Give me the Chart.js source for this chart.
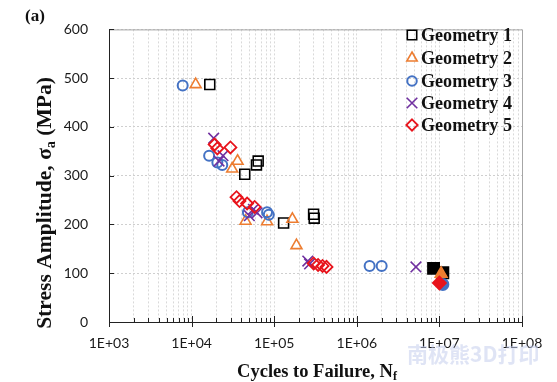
<!DOCTYPE html>
<html><head><meta charset="utf-8">
<script src="https://cdn.jsdelivr.net/npm/chart.js@4"></script>
<style>html,body{margin:0;padding:0;background:#fff;overflow:hidden}#wrap{width:557px;height:382px;position:relative}</style>
</head><body><div id="wrap"><canvas id="c" width="557" height="382"></canvas></div>
<script>
// ---- data (cycles to failure, stress amplitude MPa) ----
const seriesNames = ['Geometry 1','Geometry 2','Geometry 3','Geometry 4','Geometry 5'];
const g1Cycles = [16600, 44000, 61000, 64000, 130000, 300000, 305000];
const g1Stress = [487, 303, 322, 330, 203, 221, 213];
const g1RunoutCycles = [8.5e6, 1.1e7];
const g1RunoutStress = [110, 101];
const g2Cycles = [11200, 31000, 36000, 45000, 82000, 166000, 186000];
const g2Stress = [487, 314, 330, 207, 206, 211, 157];
const g2RunoutCycles = [1.05e7];
const g2RunoutStress = [99];
const g3Cycles = [7800, 16300, 20500, 23500, 48000, 82000, 86000, 1.43e6, 2.0e6];
const g3Stress = [485, 341, 327, 322, 225, 225, 220, 115, 115];
const g3RunoutCycles = [1.1e7];
const g3RunoutStress = [77];
const g4Cycles = [18500, 24000, 21500, 50000, 56000, 62000, 255000, 268000, 5.2e6];
const g4Stress = [377, 341, 330, 218, 231, 224, 125, 119, 113];
const g5Cycles = [19000, 20500, 29500, 35000, 38000, 47000, 58000, 300000, 340000, 385000, 430000];
const g5Stress = [364, 356, 358, 256, 248, 243, 236, 120, 117, 115, 113];
const g5RunoutCycles = [1.0e7];
const g5RunoutStress = [80];
const yTickValues = [0, 100, 200, 300, 400, 500, 600];
const xMajorTicks = [1e3, 1e4, 1e5, 1e6, 1e7, 1e8];
const xTickLabels = ['1E+03','1E+04','1E+05','1E+06','1E+07','1E+08'];

// ---- styles ----
const colors = ['#000000', '#ED7D31', '#4472C4', '#7030A0', '#E8141C'];
const styles = ['rect', 'triangle', 'circle', 'crossRot', 'rectRot'];
const radii = [7, 6.3, 5, 7.5, 6];
const widths = [1.6, 1.6, 2, 1.6, 1.8];

const xMinorTicks = [];
for (let i = 0; i < xMajorTicks.length - 1; i++) for (let m = 2; m <= 9; m++) xMinorTicks.push(m * xMajorTicks[i]);
const xAllTicks = xMajorTicks.concat(xMinorTicks).sort((a, b) => a - b);

function pts(xs, ys) { return xs.map((x, i) => ({x: x, y: ys[i]})); }
const openSets = [[g1Cycles, g1Stress], [g2Cycles, g2Stress], [g3Cycles, g3Stress], [g4Cycles, g4Stress], [g5Cycles, g5Stress]];
const runSets = [[g1RunoutCycles, g1RunoutStress], [g2RunoutCycles, g2RunoutStress], [g3RunoutCycles, g3RunoutStress], null, [g5RunoutCycles, g5RunoutStress]];

const datasets = [];
openSets.forEach((s, i) => {
  datasets.push({label: seriesNames[i], data: pts(s[0], s[1]), pointStyle: styles[i], pointRadius: radii[i],
    borderColor: colors[i], backgroundColor: 'rgba(0,0,0,0)', pointBorderWidth: widths[i], order: 20 - 2 * i});
  if (runSets[i]) datasets.push({label: seriesNames[i] + ' run-out', data: pts(runSets[i][0], runSets[i][1]), pointStyle: styles[i], pointRadius: i === 0 ? 8 : radii[i] + 0.5,
    borderColor: colors[i], backgroundColor: colors[i], pointBorderWidth: widths[i], order: 19 - 2 * i});
});

function drawMarker(ctx, style, x, y, r, color, lw) {
  ctx.save(); ctx.strokeStyle = color; ctx.lineWidth = lw; ctx.beginPath();
  if (style === 'rect') { const s = r * Math.SQRT1_2; ctx.rect(x - s, y - s, 2 * s, 2 * s); }
  else if (style === 'triangle') { let a = 0; ctx.moveTo(x + Math.sin(a) * r, y - Math.cos(a) * r); a += 2 * Math.PI / 3; ctx.lineTo(x + Math.sin(a) * r, y - Math.cos(a) * r); a += 2 * Math.PI / 3; ctx.lineTo(x + Math.sin(a) * r, y - Math.cos(a) * r); ctx.closePath(); }
  else if (style === 'circle') { ctx.arc(x, y, r, 0, Math.PI * 2); }
  else if (style === 'crossRot') { const s = r * Math.SQRT1_2; ctx.moveTo(x - s, y - s); ctx.lineTo(x + s, y + s); ctx.moveTo(x - s, y + s); ctx.lineTo(x + s, y - s); }
  else if (style === 'rectRot') { ctx.moveTo(x, y - r); ctx.lineTo(x + r, y); ctx.lineTo(x, y + r); ctx.lineTo(x - r, y); ctx.closePath(); }
  ctx.stroke(); ctx.restore();
}

const serif = '"Liberation Serif", "Times New Roman", serif';
function fitSize(ctx, parts, target) {
  let w = 0; parts.forEach(p => { ctx.font = 'bold ' + (100 * p[1]) + 'px ' + serif; w += ctx.measureText(p[0]).width; });
  return 100 * target / w;
}
function drawRich(ctx, parts, x, y, size, align) {
  let w = 0; parts.forEach(p => { ctx.font = 'bold ' + (size * p[1]) + 'px ' + serif; w += ctx.measureText(p[0]).width; });
  let cx = align === 'center' ? x - w / 2 : x;
  ctx.textAlign = 'left'; ctx.textBaseline = 'alphabetic';
  parts.forEach(p => { ctx.font = 'bold ' + (size * p[1]) + 'px ' + serif; ctx.fillText(p[0], cx, y + size * (p[2] || 0)); cx += ctx.measureText(p[0]).width; });
}

const decor = {
  id: 'decor',
  beforeDatasetsDraw(chart) {
    const ctx = chart.ctx, a = chart.chartArea, xs = chart.scales.x, ys = chart.scales.y;
    ctx.save();
    ctx.strokeStyle = '#a6a6a6'; ctx.lineWidth = 1;
    ctx.beginPath(); ctx.moveTo(a.left, a.top + 0.5); ctx.lineTo(a.right + 0.5, a.top + 0.5); ctx.lineTo(a.right + 0.5, a.bottom); ctx.stroke();
    ctx.strokeStyle = '#222'; ctx.lineWidth = 1;
    ctx.beginPath(); ctx.moveTo(a.left + 0.5, a.top); ctx.lineTo(a.left + 0.5, a.bottom + 0.5); ctx.lineTo(a.right + 0.5, a.bottom + 0.5); ctx.stroke();
    ctx.beginPath();
    xMajorTicks.forEach(v => { const px = Math.round(xs.getPixelForValue(v)) + 0.5; ctx.moveTo(px, a.bottom - 6); ctx.lineTo(px, a.bottom + 5); });
    xMinorTicks.forEach(v => { const px = Math.round(xs.getPixelForValue(v)) + 0.5; ctx.moveTo(px, a.bottom - 4); ctx.lineTo(px, a.bottom); });
    yTickValues.forEach(v => { const py = Math.round(ys.getPixelForValue(v)) + 0.5; ctx.moveTo(a.left, py); ctx.lineTo(a.left + 5, py); });
    ctx.stroke();
    ctx.restore();
  },
  afterDraw(chart) {
    const ctx = chart.ctx;
    ctx.save();
    ctx.fillStyle = '#111';
    ctx.font = 'bold 17px ' + serif; ctx.textAlign = 'left'; ctx.textBaseline = 'alphabetic';
    ctx.fillText('(a)', 25, 21);
    const yParts = [['Stress Amplitude, σ', 1, 0], ['a', 0.65, 0.18], [' (MPa)', 1, 0]];
    const ySize = fitSize(ctx, yParts, 252);
    ctx.save(); ctx.translate(51, 203); ctx.rotate(-Math.PI / 2);
    drawRich(ctx, yParts, 0, 0, ySize, 'center'); ctx.restore();
    const xParts = [['Cycles to Failure, N', 1, 0], ['f', 0.65, 0.18]];
    const xSize = fitSize(ctx, xParts, 160);
    drawRich(ctx, xParts, 317, 377, xSize, 'center');
    const rows = [35, 58, 81, 103, 125];
    const lSize = fitSize(ctx, [['Geometry 1', 1]], 91);
    seriesNames.forEach((n, i) => {
      drawMarker(ctx, styles[i], 412, rows[i], radii[i] * (i === 3 ? 1 : 0.95), colors[i], widths[i]);
      ctx.fillStyle = '#111'; ctx.font = 'bold ' + lSize + 'px ' + serif; ctx.textAlign = 'left'; ctx.textBaseline = 'middle';
      ctx.fillText(n, 421, rows[i] + 1);
    });
    ctx.fillStyle = 'rgba(196,206,236,0.55)'; ctx.font = 'bold 21px "Noto Sans CJK SC"'; ctx.textAlign = 'left'; ctx.textBaseline = 'alphabetic';
    ctx.fillText('南极熊3D打印', 407, 362);
    ctx.restore();
  }
};

new Chart(document.getElementById('c'), {
  type: 'scatter',
  data: {datasets: datasets},
  options: {
    responsive: false, animation: false, devicePixelRatio: 1,
    layout: {padding: {left: 0, top: 18, right: 35, bottom: 0}},
    plugins: {legend: {display: false}, tooltip: {enabled: false}},
    scales: {
      x: {
        type: 'logarithmic', min: 1e3, max: 1e8,
        afterBuildTicks: s => { s.ticks = xAllTicks.map(v => ({value: v, major: xMajorTicks.includes(v)})); },
        afterFit: s => { s.height = 60; },
        ticks: {autoSkip: false, maxRotation: 0, minRotation: 0, padding: 13, color: '#1a1a1a', font: {family: 'Lato', size: 14},
          callback: function (v) { const k = xMajorTicks.indexOf(v); return k >= 0 ? xTickLabels[k] : ''; }},
        grid: {color: '#d9d9d9', lineWidth: 1, drawTicks: false},
        border: {display: false, dash: [2, 2]}
      },
      y: {
        min: 0, max: 600,
        afterBuildTicks: s => { s.ticks = yTickValues.map(v => ({value: v})); },
        afterFit: s => { s.width = 109; },
        ticks: {padding: 21, color: '#1a1a1a', font: {family: 'Lato', size: 14}},
        grid: {color: '#cfcfcf', lineWidth: 1, drawTicks: false},
        border: {display: false, dash: [2, 2]}
      }
    }
  },
  plugins: [decor]
});
</script></body></html>
